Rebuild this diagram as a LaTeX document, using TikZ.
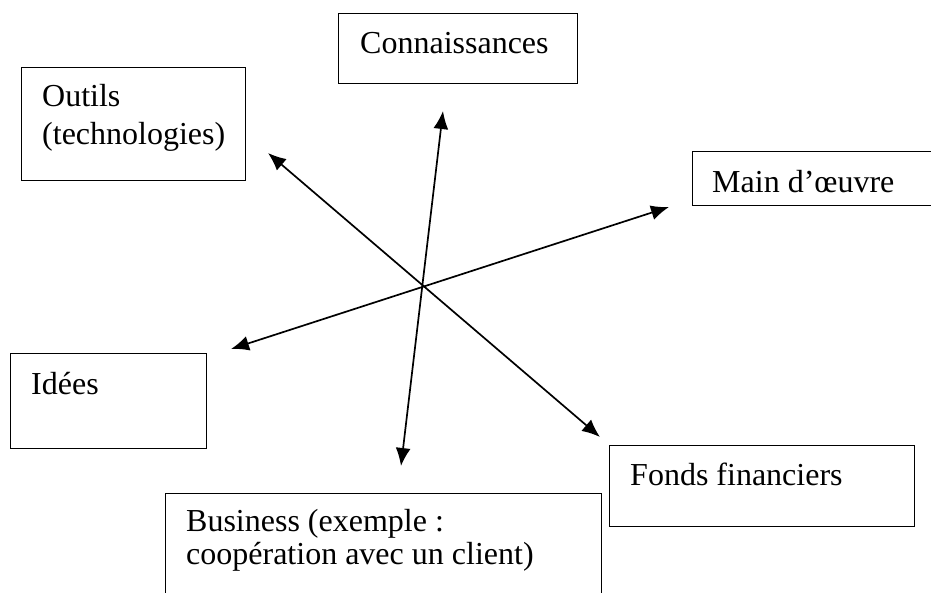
\documentclass[tikz,border=0pt]{standalone}
\usepackage{fontspec}
\setmainfont{Liberation Serif}
\usetikzlibrary{arrows.meta}

\tikzset{
  box/.style={draw=black, line width=0.9pt, rectangle, inner sep=0pt, anchor=north west},
  lbl/.style={anchor=base west, inner sep=0pt, font=\fontsize{32}{36}\selectfont},
  tip/.style={Latex[length=18pt,width=15pt]},
  link/.style={line width=1.7pt, {Latex[length=18pt,width=15pt]}-{Latex[length=18pt,width=15pt]}}
}

\begin{document}
\begin{tikzpicture}[x=1pt, y=-1pt]
  \useasboundingbox (0,0) rectangle (931,593);
  \clip (0,0) rectangle (931,593);

  % boxes
  \node[box, minimum width=224pt, minimum height=113pt] (outils) at (21,67) {};
  \node[box, minimum width=239pt, minimum height=70pt]  (conn)   at (338,13) {};
  \node[box, minimum width=252pt, minimum height=54pt]  (main)   at (692,151) {};
  \node[box, minimum width=196pt, minimum height=95pt]  (idees)  at (10,353) {};
  \node[box, minimum width=305pt, minimum height=81pt]  (fonds)  at (609,445) {};
  \node[box, minimum width=436pt, minimum height=120pt] (biz)    at (165,493) {};

  % labels
  \node[lbl] (tOutils) at (42,107) {Outils};
  \node[lbl] (tTech)   at (42,145) {(technologies)};
  \node[lbl] (tConn)   at (360,54) {Connaissances};
  \node[lbl] (tMain)   at (712,193) {Main d’œuvre};
  \node[lbl] (tIdees)  at (31,394) {Idées};
  \node[lbl] (tFonds)  at (630,485) {Fonds financiers};
  \node[lbl] (tBiz1)   at (186,531) {Business (exemple :};
  \node[lbl] (tBiz2)   at (186,564) {coopération avec un client)};

  % arrow end points
  \coordinate (pOutils) at (268,153);
  \coordinate (pFonds)  at (600,437);
  \coordinate (pConn)   at (443,111);
  \coordinate (pBiz)    at (401,466);
  \coordinate (pIdees)  at (231,349);
  \coordinate (pMain)   at (669,207);

  % double-headed connectors
  \draw[link] (pOutils) -- (pFonds);
  \draw[link] (pConn) -- (pBiz);
  \draw[link] (pIdees) -- (pMain);
\end{tikzpicture}
\end{document}
